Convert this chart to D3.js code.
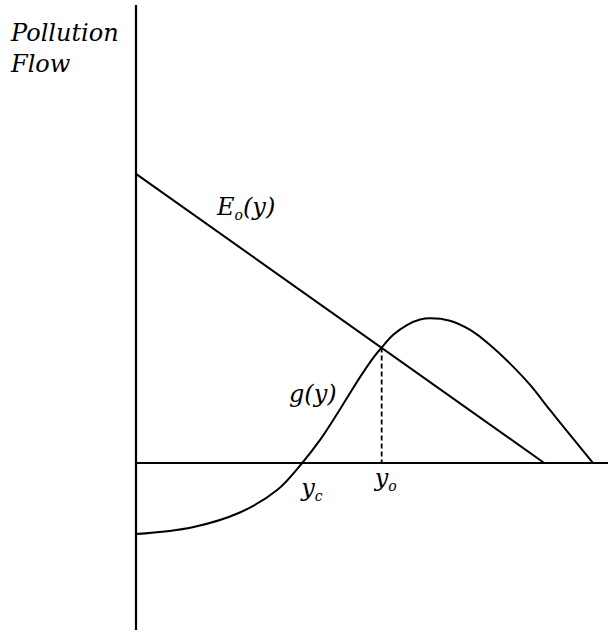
<!DOCTYPE html>
<html>
<head>
<meta charset="utf-8">
<script src="https://cdn.jsdelivr.net/npm/d3@7/dist/d3.min.js"></script>
<style>
  body { margin: 0; background: #fff; }
</style>
</head>
<body>
<div id="chart"></div>
<script>
// emission line E_o(y): [y, flow]
var eLine = [[0, 100.4], [86.5, 0]];

// g(y) curve
var gX = [0, 12, 22, 29.9, 35.2, 39.0, 43.2, 47.5, 50.3, 52.05, 54.5, 57.4, 60.2, 62.3, 66.5, 70.8, 75.0, 79.2, 83.5, 87.7, 92.0, 96.8];
var gY = [-24.7, -22.3, -17.2, -9.4, 0, 8.0, 18.6, 29.9, 36.6, 40.1, 44.5, 47.9, 49.8, 50.25, 49.4, 46.2, 41.0, 34.6, 27.1, 18.4, 9.7, 0];

// key points on the y axis
var yc = 35.2;
var yo = 52.05;
var yoFlow = 40.1;

var width = 608, height = 630;
var serif = "'DejaVu Serif', serif";

var x = d3.scaleLinear().domain([0, 100]).range([136, 608]);
var y = d3.scaleLinear().domain([-58, 158]).range([630, 8]);

var svg = d3.select("#chart")
    .append("svg")
    .attr("width", width)
    .attr("height", height);

// axes
svg.append("line")
    .attr("x1", x(0)).attr("x2", x(0))
    .attr("y1", 5).attr("y2", height)
    .attr("stroke", "#000")
    .attr("stroke-width", 2.2);

svg.append("line")
    .attr("x1", x(0)).attr("x2", x(100))
    .attr("y1", y(0)).attr("y2", y(0))
    .attr("stroke", "#000")
    .attr("stroke-width", 2);

var line = d3.line()
    .x(function(d) { return x(d[0]); })
    .y(function(d) { return y(d[1]); });

svg.append("path")
    .datum(eLine)
    .attr("d", line)
    .attr("fill", "none")
    .attr("stroke", "#000")
    .attr("stroke-width", 2);

var gData = gX.map(function(v, i) { return [v, gY[i]]; });

svg.append("path")
    .datum(gData)
    .attr("d", line.curve(d3.curveCatmullRom.alpha(0.5)))
    .attr("fill", "none")
    .attr("stroke", "#000")
    .attr("stroke-width", 2);

// dashed drop line at y_o
svg.append("line")
    .attr("x1", x(yo)).attr("x2", x(yo))
    .attr("y1", y(yoFlow)).attr("y2", y(0))
    .attr("stroke", "#000")
    .attr("stroke-width", 1.8)
    .attr("stroke-dasharray", "5,3");

// labels
var fs = 24;

function label(px, py) {
    return svg.append("text")
        .attr("x", px).attr("y", py)
        .attr("font-family", serif)
        .attr("font-style", "italic")
        .attr("font-size", fs);
}

label(11, 41).text("Pollution");
label(11, 72).text("Flow");

var eLab = label(217, 215);
eLab.append("tspan").text("E");
eLab.append("tspan").attr("font-size", 14).attr("dy", 5).text("o");
eLab.append("tspan").attr("dy", -5).text("(y)");

label(289, 402).text("g(y)");

var ycLab = label(x(yc) - 1, 496);
ycLab.append("tspan").text("y");
ycLab.append("tspan").attr("font-size", 14).attr("dy", 5).text("c");

var yoLab = label(x(yo) - 7, 486);
yoLab.append("tspan").text("y");
yoLab.append("tspan").attr("font-size", 14).attr("dy", 5).text("o");
</script>
</body>
</html>
